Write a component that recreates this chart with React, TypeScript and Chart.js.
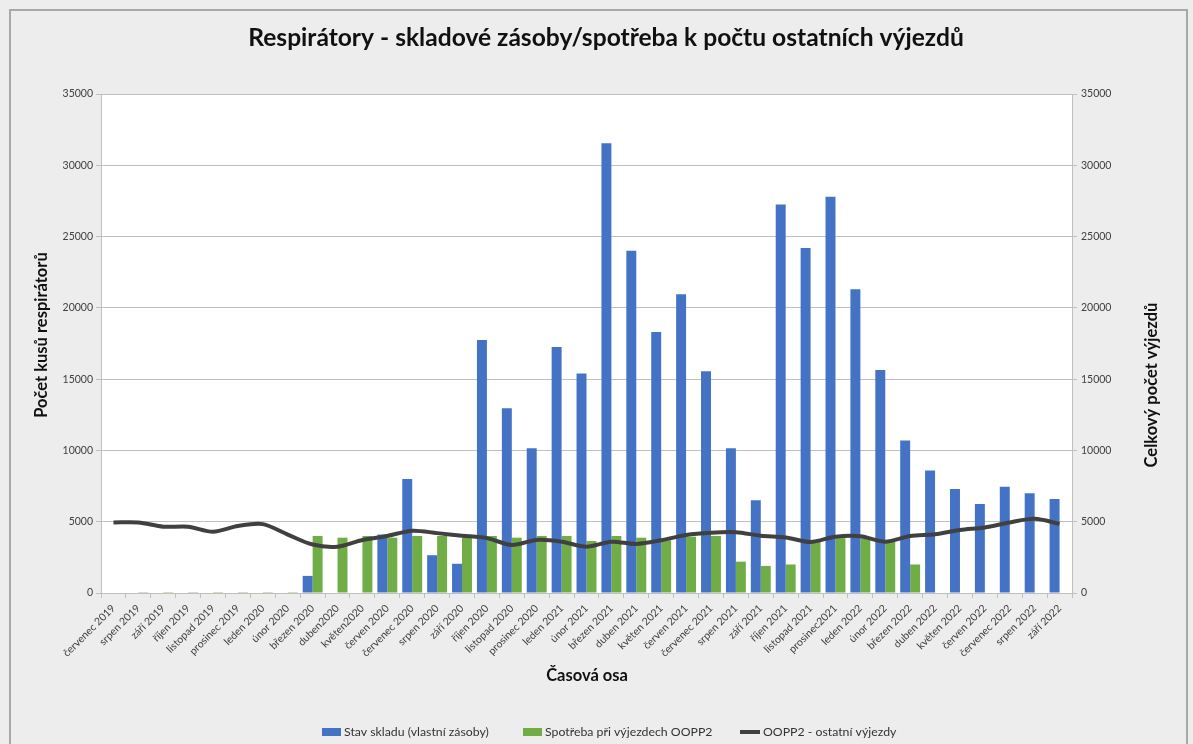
import React, { useEffect, useRef } from "react";
import { Chart, registerables } from "chart.js";

Chart.register(...registerables);

const categories = [
  "červenec 2019", "srpen 2019", "září 2019", "říjen 2019", "listopad 2019", "prosinec 2019",
  "leden 2020", "únor 2020", "březen 2020", "duben2020", "květen2020", "červen 2020",
  "červenec 2020", "srpen 2020", "září 2020", "říjen 2020", "listopad 2020", "prosinec 2020",
  "leden 2021", "únor 2021", "březen 2021", "duben 2021", "květen 2021", "červen 2021",
  "červenec 2021", "srpen 2021", "září 2021", "říjen 2021", "listopad 2021", "prosinec2021",
  "leden 2022", "únor 2022", "březen 2022", "duben 2022", "květen 2022", "červen 2022",
  "červenec 2022", "srpen 2022", "září 2022",
];

const stockValues = [
  0, 0, 0, 0, 0, 0,
  0, 0, 1200, 0, 0, 4100,
  8000, 2650, 2050, 17750, 12950, 10150,
  17250, 15400, 31550, 24000, 18300, 20950,
  15550, 10150, 6500, 27250, 24200, 27800,
  21300, 15650, 10700, 8600, 7300, 6250,
  7450, 7000, 6600,
];

const consumptionValues = [
  0, 60, 60, 60, 60, 60,
  60, 60, 4000, 3880, 4000, 3880,
  4000, 4000, 3880, 4000, 3880, 4000,
  4000, 3650, 4000, 3880, 3700, 3950,
  4000, 2200, 1900, 2000, 3600, 3850,
  3850, 3600, 2000, 0, 0, 0,
  0, 0, 0,
];

const tripValues = [
  4950, 4950, 4650, 4650, 4300, 4700,
  4830, 4100, 3400, 3250, 3720, 4000,
  4370, 4200, 4020, 3850, 3370, 3720,
  3600, 3250, 3600, 3440, 3700, 4070,
  4230, 4260, 4020, 3900, 3580, 3950,
  3980, 3600, 4000, 4120, 4420, 4600,
  4950, 5200, 4850,
];

const axisMin = 0;
const axisMax = 35000;
const axisStep = 5000;

const seriesNames = [
  "Stav skladu (vlastní zásoby)",
  "Spotřeba při výjezdech OOPP2",
  "OOPP2 - ostatní výjezdy",
];
const seriesColors = ["#4472C4", "#70AD47", "#404040"];

const chartTitle = "Respirátory - skladové zásoby/spotřeba k počtu ostatních výjezdů";
const leftAxisTitle = "Počet kusů respirátorů";
const rightAxisTitle = "Celkový počet výjezdů";
const xAxisTitle = "Časová osa";

const FONT = 'Lato, "Open Sans", "DejaVu Sans", sans-serif';

const decorPlugin = {
  id: "decor",
  beforeDraw(chart: any) {
    const { ctx, chartArea, width, height } = chart;
    ctx.save();
    ctx.fillStyle = "#ededed";
    ctx.fillRect(0, 0, width, height);
    ctx.strokeStyle = "#a8a8a8";
    ctx.lineWidth = 2;
    ctx.strokeRect(10, 10, width - 16, height + 20);
    ctx.fillStyle = "#ffffff";
    ctx.fillRect(chartArea.left, chartArea.top, chartArea.right - chartArea.left, chartArea.bottom - chartArea.top);
    ctx.restore();
  },
  afterDraw(chart: any) {
    const { ctx } = chart;
    ctx.save();
    ctx.fillStyle = "#111111";
    ctx.textBaseline = "middle";
    ctx.textAlign = "center";
    ctx.font = `bold 24.6px ${FONT}`;
    ctx.fillText(chartTitle, 606, 38);

    ctx.font = `bold 16.5px ${FONT}`;
    ctx.fillText(xAxisTitle, 587, 676);

    ctx.save();
    ctx.translate(42, 335);
    ctx.rotate(-Math.PI / 2);
    ctx.fillText(leftAxisTitle, 0, 0);
    ctx.restore();

    ctx.save();
    ctx.translate(1152, 385);
    ctx.rotate(-Math.PI / 2);
    ctx.fillText(rightAxisTitle, 0, 0);
    ctx.restore();

    // legend
    ctx.font = `12.3px ${FONT}`;
    ctx.textAlign = "left";
    const starts = [322, 523, 740];
    const ly = 732;
    seriesNames.forEach((name, i) => {
      const x = starts[i];
      if (i < 2) {
        ctx.fillStyle = seriesColors[i];
        ctx.fillRect(x, ly - 4, 19, 8);
      } else {
        ctx.strokeStyle = seriesColors[i];
        ctx.lineWidth = 4;
        ctx.beginPath();
        ctx.moveTo(x, ly);
        ctx.lineTo(x + 20, ly);
        ctx.stroke();
      }
      ctx.fillStyle = "#333333";
      ctx.fillText(name, x + (i < 2 ? 22 : 23), ly);
    });
    ctx.restore();
  },
};

export default function App() {
  const ref = useRef<HTMLCanvasElement | null>(null);

  useEffect(() => {
    if (!ref.current) return;
    const tickFont = { family: FONT, size: 10.5 };
    const chart = new Chart(ref.current, {
      type: "bar",
      data: {
        labels: categories,
        datasets: [
          {
            type: "line",
            label: seriesNames[2],
            data: tripValues,
            borderColor: seriesColors[2],
            backgroundColor: seriesColors[2],
            borderWidth: 4,
            pointRadius: 0,
            tension: 0.3,
            yAxisID: "y1",
            order: 0,
          } as any,
          {
            label: seriesNames[0],
            data: stockValues,
            backgroundColor: seriesColors[0],
            categoryPercentage: 0.8,
            barPercentage: 1.0,
            yAxisID: "y",
            order: 1,
          },
          {
            label: seriesNames[1],
            data: consumptionValues,
            backgroundColor: seriesColors[1],
            categoryPercentage: 0.8,
            barPercentage: 1.0,
            yAxisID: "y",
            order: 1,
          },
        ],
      },
      options: {
        responsive: false,
        animation: false,
        layout: { padding: { left: 41, right: 61, top: 94, bottom: 0 } },
        plugins: {
          legend: { display: false },
          title: { display: false },
          tooltip: { enabled: false },
        },
        scales: {
          x: {
            afterFit: (axis: any) => {
              axis.height = 151;
            },
            grid: {
              display: true,
              drawOnChartArea: false,
              drawTicks: true,
              tickLength: 5,
              color: "#bfbfbf",
              offset: true,
            },
            border: { display: true, color: "#bfbfbf" },
            ticks: {
              autoSkip: false,
              minRotation: 45,
              maxRotation: 45,
              color: "#404040",
              font: tickFont,
              padding: 4,
            },
          },
          y: {
            position: "left",
            min: axisMin,
            max: axisMax,
            afterFit: (axis: any) => {
              axis.width = 60;
            },
            grid: { color: "#c0c0c0", tickLength: 5, drawTicks: true },
            border: { display: true, color: "#bfbfbf" },
            ticks: {
              stepSize: axisStep,
              color: "#404040",
              font: tickFont,
              padding: 3,
              callback: (v: any) => String(v),
            },
          },
          y1: {
            position: "right",
            min: axisMin,
            max: axisMax,
            afterFit: (axis: any) => {
              axis.width = 60;
            },
            grid: { drawOnChartArea: false, color: "#bfbfbf", tickLength: 5, drawTicks: true },
            border: { display: true, color: "#bfbfbf" },
            ticks: {
              stepSize: axisStep,
              color: "#404040",
              font: tickFont,
              padding: 4,
              callback: (v: any) => String(v),
            },
          },
        },
      },
      plugins: [decorPlugin],
    });
    return () => chart.destroy();
  }, []);

  return (
    <div style={{ position: "absolute", left: 0, top: 0, width: 1193, height: 744 }}>
      <canvas ref={ref} width={1193} height={744} style={{ display: "block" }} />
    </div>
  );
}
